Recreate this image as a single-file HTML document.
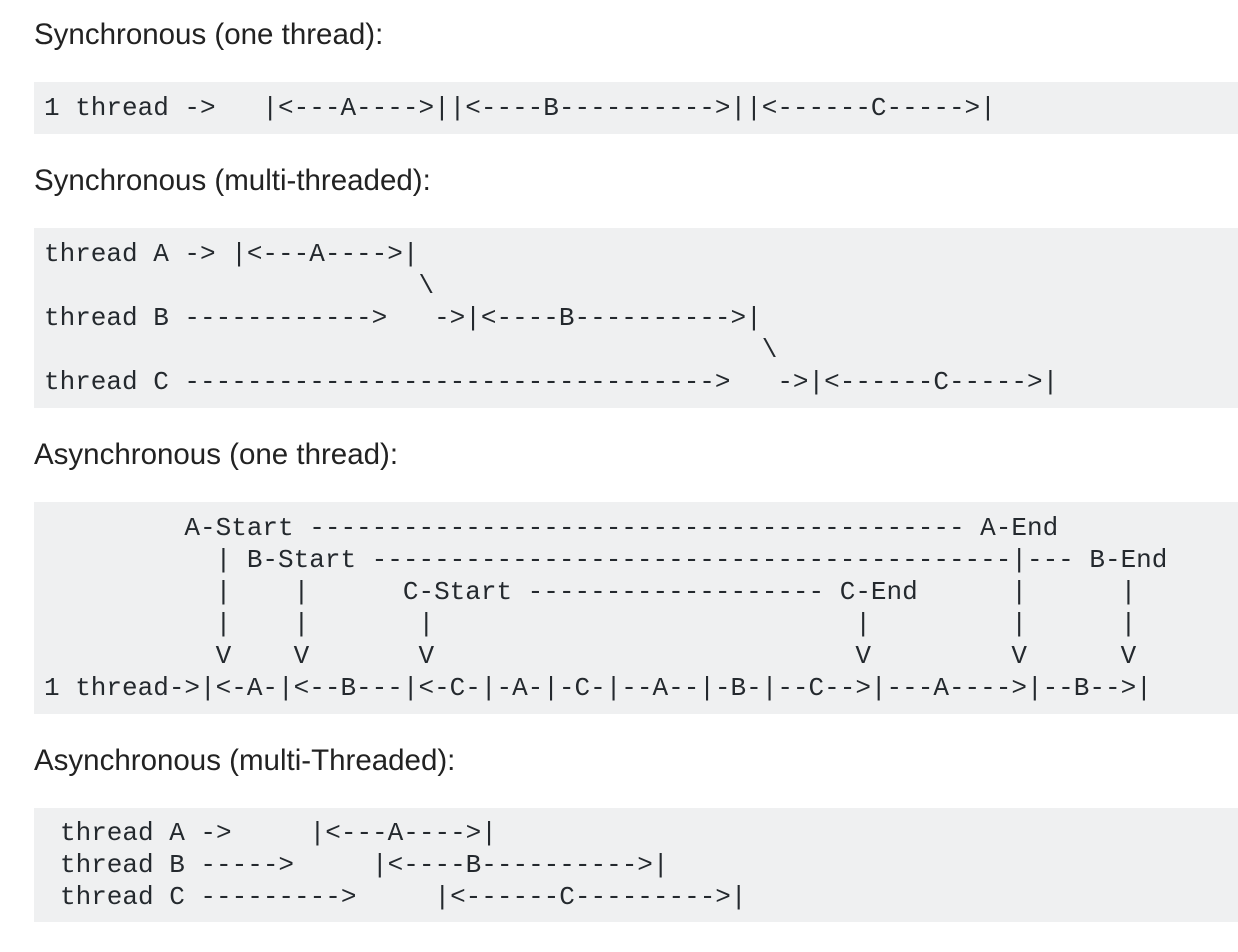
<!DOCTYPE html>
<html><head><meta charset="utf-8"><style>
html,body{margin:0;padding:0;background:#fff;width:1238px;height:952px;overflow:hidden;position:relative}
.h{position:absolute;left:34px;font-family:"Liberation Sans",sans-serif;font-size:29.5px;color:#222;line-height:32px;white-space:nowrap}
.b{position:absolute;left:34px;width:1204px;background:#eff0f1}
pre{position:absolute;margin:0;font-family:"Liberation Mono",monospace;font-size:26px;line-height:32px;color:#24292e;white-space:pre;font-weight:500}
</style></head><body>
<div class="h" style="top:19px">Synchronous (one thread):</div>
<div class="b" style="top:82px;height:52px"></div>
<pre style="left:44px;top:92px">1 thread ->   |&lt;---A----&gt;||&lt;----B----------&gt;||&lt;------C-----&gt;|</pre>

<div class="h" style="top:165px">Synchronous (multi-threaded):</div>
<div class="b" style="top:228px;height:180px"></div>
<pre style="left:44px;top:238px">thread A -&gt; |&lt;---A----&gt;|
                        \
thread B ------------&gt;   -&gt;|&lt;----B----------&gt;|
                                              \
thread C ----------------------------------&gt;   -&gt;|&lt;------C-----&gt;|</pre>

<div class="h" style="top:439px">Asynchronous (one thread):</div>
<div class="b" style="top:502px;height:212px"></div>
<pre style="left:44px;top:512px">         A-Start ------------------------------------------ A-End
           | B-Start -----------------------------------------|--- B-End
           |    |      C-Start ------------------- C-End      |      |
           |    |       |                           |         |      |
           V    V       V                           V         V      V
1 thread-&gt;|&lt;-A-|&lt;--B---|&lt;-C-|-A-|-C-|--A--|-B-|--C--&gt;|---A----&gt;|--B--&gt;|</pre>

<div class="h" style="top:745px">Asynchronous (multi-Threaded):</div>
<div class="b" style="top:808px;height:114px"></div>
<pre style="left:60px;top:817px">thread A -&gt;     |&lt;---A----&gt;|
thread B -----&gt;     |&lt;----B----------&gt;|
thread C ---------&gt;     |&lt;------C---------&gt;|</pre>
</body></html>
